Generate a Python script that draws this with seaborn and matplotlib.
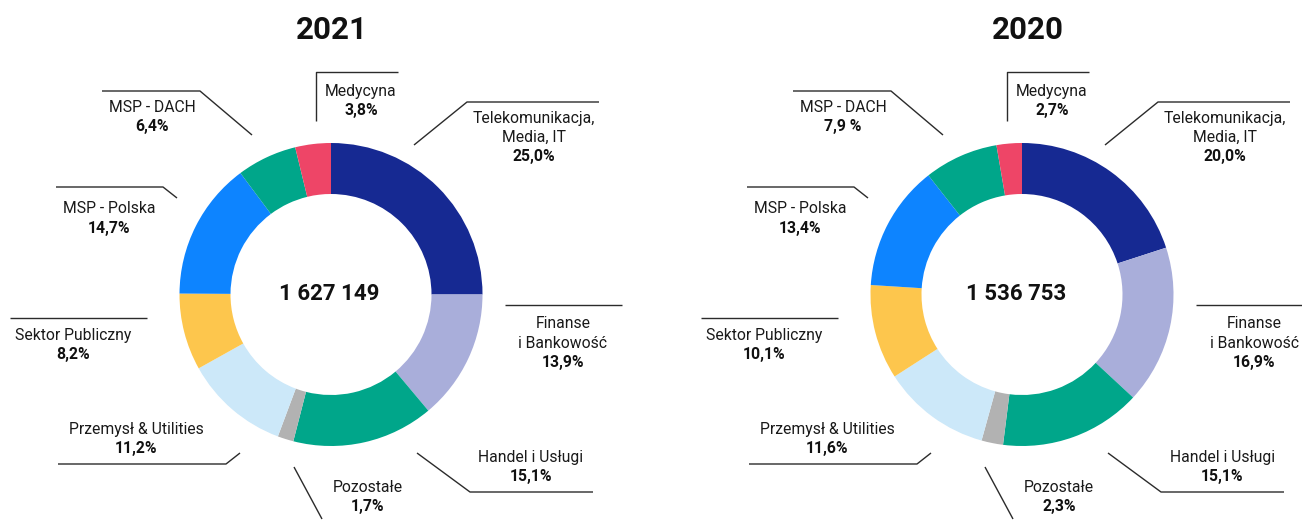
"""
Donut charts: revenue split by sector, 2021 vs 2020.
"""
import matplotlib.pyplot as plt
import seaborn as sns

sns.set_theme(style="white")
plt.rcParams['font.family'] = ['Roboto', 'DejaVu Sans']

# ---- data -------------------------------------------------------------
sectors = ["Telekomunikacja,\nMedia, IT", "Finanse\ni Bankowość", "Handel i Usługi",
           "Pozostałe", "Przemysł & Utilities", "Sektor Publiczny",
           "MSP - Polska", "MSP - DACH", "Medycyna"]
share_2021 = [25.0, 13.9, 15.1, 1.7, 11.2, 8.2, 14.7, 6.4, 3.8]
share_2020 = [20.0, 16.9, 15.1, 2.3, 11.6, 10.1, 13.4, 7.9, 2.7]
total_2021 = "1 627 149"
total_2020 = "1 536 753"
years = ["2021", "2020"]

NAVY   = "#162992"
LAVEND = "#A9AEDA"
TEAL   = "#00A68A"
GRAY   = "#B2B2B2"
LIGHT  = "#CCE8F9"
YELLOW = "#FDC64D"
BLUE   = "#0D84FF"
RED    = "#EE4567"
colors = [NAVY, LAVEND, TEAL, GRAY, LIGHT, YELLOW, BLUE, TEAL, RED]

# ---- layout (pixel coords of the 2021 panel; 2020 is shifted right) ---
CX, CY = 331, 294.5
R_OUT, RING = 151.5, 51
DX = 691
LINE_GAP = 19.5
LABEL_FS = 11.3

# label anchor: (x centre, y of the percent line)
label_pos = [(534, 157), (563, 363), (531, 477), (368, 507), (136, 449),
             (73, 355), (109, 228), (152, 127), (361, 111)]
leaders = [
    [(414, 145), (467, 102), (599, 102)],
    [(505, 305), (622, 305)],
    [(417, 453), (470, 492), (593, 492)],
    [(294, 467), (322, 519)],
    [(58, 464), (226, 464), (240, 453)],
    [(10, 318), (147, 318)],
    [(56, 187), (163, 187), (177, 198)],
    [(102, 91), (200, 91), (252, 135)],
    [(316, 121), (316, 72), (398, 72)],
]


def pct_text(v, year, name):
    s = f"{v:.1f}".replace(".", ",")
    # the 2020 report prints this one with a space
    if year == "2020" and name == "MSP - DACH":
        return s + " %"
    return s + "%"


fig = plt.figure(figsize=(13.02, 5.2), dpi=100)
ax = fig.add_axes([0, 0, 1, 1])

panels = [(years[0], share_2021, total_2021, 0, 332, 329),
          (years[1], share_2020, total_2020, DX, 1028, 1016)]

for year, shares, total, dx, title_x, total_x in panels:
    # y axis is inverted below, so -90 is the top and counterclock runs clockwise
    ax.pie(shares, colors=colors, center=(CX + dx, CY), radius=R_OUT,
           startangle=-90, counterclock=True,
           wedgeprops=dict(width=RING, linewidth=0))
    ax.text(title_x, 30, year, ha='center', va='center',
            fontsize=22.5, fontweight='bold', color='#111111')
    ax.text(total_x, CY, total, ha='center', va='center',
            fontsize=16, fontweight='bold', color='#111111')

    for name, v, (lx, ly), pts in zip(sectors, shares, label_pos, leaders):
        lines = name.split("\n")
        for k, ln in enumerate(lines):
            ax.text(lx + dx, ly - LINE_GAP * (len(lines) - k), ln,
                    ha='center', va='center', fontsize=LABEL_FS, color='#1a1a1a')
        ax.text(lx + dx, ly, pct_text(v, year, name), ha='center', va='center',
                fontsize=LABEL_FS, fontweight='bold', color='#111111')
        xs = [p[0] + dx for p in pts]
        ys = [p[1] for p in pts]
        ax.plot(xs, ys, color='#2b2b2b', linewidth=1.0, solid_capstyle='butt')

ax.set_xlim(0, 1302)
ax.set_ylim(520, 0)
ax.set_aspect('equal')
ax.axis('off')

plt.savefig("out.png", dpi=100)
plt.close()
